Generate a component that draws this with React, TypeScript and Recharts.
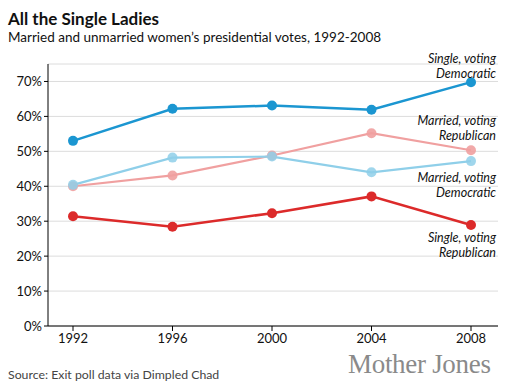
import React from 'react';
import { LineChart, Line, XAxis, YAxis, CartesianGrid } from 'recharts';

const years = ['1992', '1996', '2000', '2004', '2008'];
const singleDem = [53, 62.2, 63.1, 61.9, 69.8];
const marriedDem = [40.4, 48.2, 48.5, 44.0, 47.2];
const marriedRep = [40.0, 43.1, 48.8, 55.2, 50.3];
const singleRep = [31.4, 28.4, 32.3, 37.1, 28.9];
const yTicks = [0, 10, 20, 30, 40, 50, 60, 70];

const data = years.map((y, i) => ({
  year: y,
  singleDem: singleDem[i],
  marriedDem: marriedDem[i],
  marriedRep: marriedRep[i],
  singleRep: singleRep[i],
}));

const FONT = 'Lato, "Open Sans", sans-serif';

const labelStyle: React.CSSProperties = {
  position: 'absolute',
  right: 32,
  fontFamily: FONT,
  fontStyle: 'italic',
  fontSize: 12.5,
  lineHeight: '15px',
  textAlign: 'right',
  color: '#111',
};

export default function App() {
  return (
    <div style={{ position: 'absolute', left: 0, top: 0, width: 528, height: 390, background: '#fff', overflow: 'hidden' }}>
      <div style={{ position: 'absolute', left: 8, top: 10, fontFamily: FONT, fontWeight: 700, fontSize: 17, lineHeight: '18px', color: '#111' }}>
        All the Single Ladies
      </div>
      <div style={{ position: 'absolute', left: 8, top: 29, fontFamily: FONT, fontSize: 13.5, lineHeight: '16px', color: '#111' }}>
        Married and unmarried women’s presidential votes, 1992-2008
      </div>
      <div style={{ position: 'absolute', left: 0, top: 0 }}>
        <LineChart width={528} height={390} data={data} margin={{ top: 64, right: 30, bottom: 34, left: 0 }}>
          <CartesianGrid vertical={false} stroke="#dcdcdc" strokeWidth={1} />
          <XAxis
            dataKey="year"
            padding={{ left: 25, right: 27 }}
            stroke="#000"
            tickSize={5}
            tickMargin={3}
            height={30}
            tick={{ fill: '#111', fontSize: 13, fontFamily: FONT }}
          />
          <YAxis
            domain={[0, 75]}
            ticks={yTicks}
            width={48}
            stroke="#000"
            tickSize={4}
            tickMargin={2}
            tickFormatter={(v: number) => `${v}%`}
            tick={{ fill: '#111', fontSize: 13, fontFamily: FONT }}
          />
          <Line dataKey="marriedRep" stroke="#f0a0a0" strokeWidth={2.2} dot={{ r: 5, fill: '#f0a0a0', stroke: 'none', fillOpacity: 0.9 }} isAnimationActive={false} />
          <Line dataKey="marriedDem" stroke="#8fcfe9" strokeWidth={2.2} dot={{ r: 5, fill: '#8fcfe9', stroke: 'none', fillOpacity: 0.85 }} isAnimationActive={false} />
          <Line dataKey="singleRep" stroke="#dc2a2a" strokeWidth={2.5} dot={{ r: 5, fill: '#dc2a2a', stroke: 'none' }} isAnimationActive={false} />
          <Line dataKey="singleDem" stroke="#1b96d1" strokeWidth={2.5} dot={{ r: 5, fill: '#1b96d1', stroke: 'none' }} isAnimationActive={false} />
        </LineChart>
      </div>
      <div style={{ ...labelStyle, top: 51 }}>Single, voting<br />Democratic</div>
      <div style={{ ...labelStyle, top: 113 }}>Married, voting<br />Republican</div>
      <div style={{ ...labelStyle, top: 170 }}>Married, voting<br />Democratic</div>
      <div style={{ ...labelStyle, top: 230 }}>Single, voting<br />Republican</div>
      <div style={{ position: 'absolute', left: 8, top: 367, fontFamily: FONT, fontSize: 12.3, color: '#444' }}>
        Source: Exit poll data via Dimpled Chad
      </div>
      <div style={{ position: 'absolute', left: 348, top: 349, fontFamily: '"Liberation Serif", "DejaVu Serif", serif', fontSize: 27, color: '#8a8a8a', letterSpacing: -0.3 }}>
        Mother Jones
      </div>
    </div>
  );
}
